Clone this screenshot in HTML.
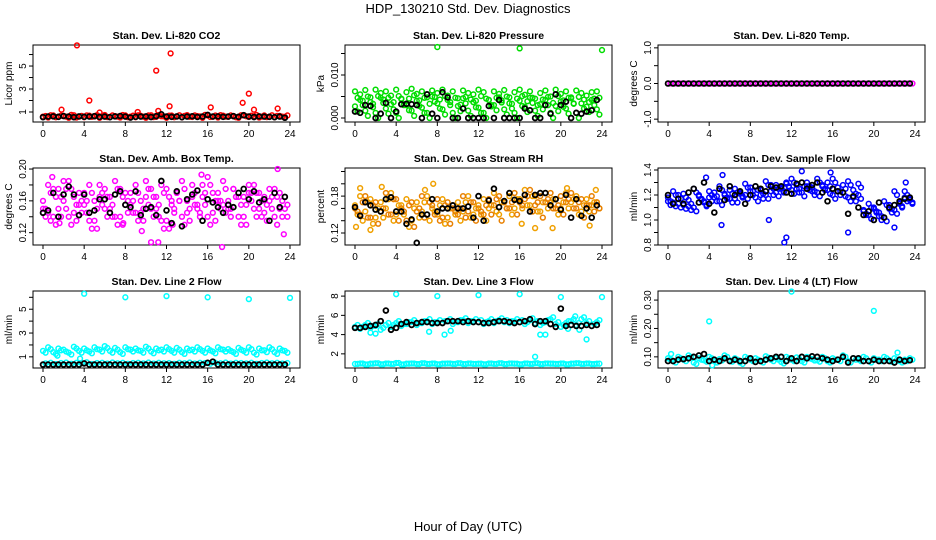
<!DOCTYPE html>
<html><head><meta charset="utf-8"><style>
html,body{margin:0;padding:0;background:#fff}
svg{display:block;font-family:"Liberation Sans",Arial,sans-serif}
</style></head><body>
<svg id="chart" width="936" height="540">
<text x="468" y="13" text-anchor="middle" font-size="13">HDP_130210  Std. Dev. Diagnostics</text>
<text x="468" y="531" text-anchor="middle" font-size="13">Hour of Day (UTC)</text>
</svg>
<script>
const xTicks=[0,4,8,12,16,20,24];
const co2Red=[0.6,0.52,0.7,0.58,0.66,0.5,0.72,0.6,0.55,0.68,0.62,0.5,0.74,0.57,0.64,0.52,0.7,0.6,0.55,0.67,0.5,0.72,0.58,0.63,0.5,0.69,0.6,0.54,0.73,0.57,0.64,0.5,0.7,0.6,0.52,0.68,0.58,0.65,0.5,0.72,0.57,0.62,0.52,0.7,0.6,0.55,0.66,0.58];
const co2Red2=[0.65,0.72,0.55,0.68,0.6,0.75,0.52,0.66,0.7,0.58,0.73,0.64,0.56,0.7,0.6,0.74,0.55,0.68,0.72,0.6,0.7,0.56,0.74,0.62,0.68,0.55,0.72,0.66,0.58,0.7,0.62,0.75,0.57,0.69,0.73,0.6,0.7,0.55,0.72,0.63,0.68,0.74,0.6,0.56,0.71,0.66,0.6,0.7];
const co2OutHours=[3.3,4.5,1.8,5.5,9.2,11,11.2,12.3,12.4,16.3,19.4,20,20.5,22.8];
const co2OutValues=[6.8,2.0,1.2,0.95,1.0,4.6,1.1,1.5,6.1,1.4,1.8,2.6,1.2,1.3];
const co2Black=[0.55,0.6,0.62,0.58,0.65,0.6,0.55,0.62,0.58,0.6,0.64,0.57,0.6,0.55,0.62,0.65,0.6,0.52,0.58,0.6,0.62,0.56,0.64,0.8,0.6,0.58,0.62,0.55,0.6,0.63,0.57,0.6,0.75,0.6,0.62,0.58,0.6,0.64,0.58,0.72,0.6,0.56,0.62,0.6,0.58,0.55,0.6,0.5];

const presA=[0.0062,0.0055,0.0065,0.0048,0.0066,0.0058,0.0062,0.0052,0.0066,0.0045,0.006,0.0068,0.0056,0.0062,0.0048,0.0064,0.0058,0.0066,0.0052,0.0062,0.0046,0.0064,0.0058,0.0055,0.0066,0.006,0.0042,0.0062,0.0056,0.0065,0.0048,0.006,0.0066,0.0054,0.0062,0.0045,0.0058,0.0064,0.005,0.0066,0.0056,0.0062,0.0048,0.0064,0.0058,0.0052,0.006,0.0062];
const presB=[0.0015,0.003,0.0005,0.0025,0.0,0.0035,0.001,0.002,0.0,0.0032,0.0018,0.0005,0.0028,0.0012,0.0,0.0038,0.0022,0.0008,0.003,0.0,0.0016,0.0034,0.0005,0.0025,0.0012,0.0,0.003,0.0018,0.0036,0.0008,0.0022,0.0,0.0028,0.0014,0.0035,0.0005,0.002,0.003,0.0,0.0016,0.0026,0.001,0.0034,0.0,0.0022,0.0014,0.003,0.0008];
const presOutHours=[8,16,24];
const presOutValues=[0.0165,0.0162,0.0158];
const presBlack=[0.0015,0.0012,0.003,0.0028,0.0,0.001,0.0035,0.0,0.0015,0.0032,0.0033,0.0032,0.003,0.0,0.0055,0.001,0.0,0.006,0.0048,0.0,0.0,0.0022,0.0,0.0,0.0,0.0,0.0028,0.0,0.0042,0.0,0.0,0.0,0.0,0.0022,0.0018,0.0,0.0,0.003,0.001,0.0055,0.003,0.0038,0.0,0.0012,0.001,0.0015,0.0018,0.0042];

const tempMag=[0,0,0,0,0,0,0,0,0,0,0,0,0,0,0,0,0,0,0,0,0,0,0,0,0,0,0,0,0,0,0,0,0,0,0,0,0,0,0,0,0,0,0,0,0,0,0,0];
const tempBlack=[0,0,0,0,0,0,0,0,0,0,0,0,0,0,0,0,0,0,0,0,0,0,0,0,0,0,0,0,0,0,0,0,0,0,0,0,0,0,0,0,0,0,0,0,0,0,0,0];

const ambA=[0.16,0.145,0.175,0.15,0.185,0.14,0.165,0.155,0.17,0.135,0.16,0.18,0.15,0.165,0.14,0.175,0.155,0.17,0.145,0.16,0.185,0.15,0.165,0.135,0.175,0.155,0.17,0.14,0.16,0.18,0.15,0.165,0.19,0.145,0.17,0.155,0.16,0.175,0.14,0.165,0.18,0.15,0.17,0.145,0.16,0.175,0.15,0.165];
const ambB=[0.14,0.17,0.13,0.165,0.15,0.175,0.135,0.16,0.145,0.17,0.125,0.155,0.165,0.14,0.175,0.13,0.16,0.145,0.17,0.135,0.155,0.165,0.14,0.17,0.125,0.15,0.16,0.175,0.135,0.155,0.145,0.17,0.13,0.16,0.15,0.175,0.14,0.165,0.155,0.13,0.16,0.17,0.14,0.155,0.165,0.13,0.16,0.14];
const ambOutHours=[0.9,1.6,7.8,9.6,10.5,11.2,12.6,17.4,22.8,23.4,15.4];
const ambOutValues=[0.19,0.132,0.132,0.122,0.108,0.108,0.13,0.102,0.2,0.118,0.193];
const ambBlack=[0.145,0.148,0.17,0.14,0.168,0.178,0.168,0.142,0.168,0.145,0.148,0.162,0.162,0.145,0.168,0.172,0.155,0.152,0.172,0.142,0.15,0.152,0.142,0.185,0.148,0.132,0.172,0.128,0.162,0.168,0.173,0.135,0.162,0.158,0.152,0.145,0.155,0.152,0.17,0.175,0.162,0.172,0.158,0.162,0.135,0.17,0.152,0.165];

const rhA=[0.165,0.18,0.155,0.175,0.145,0.17,0.16,0.185,0.15,0.165,0.175,0.14,0.17,0.155,0.18,0.16,0.15,0.175,0.145,0.165,0.17,0.155,0.18,0.15,0.165,0.175,0.16,0.185,0.15,0.17,0.18,0.16,0.175,0.19,0.165,0.18,0.155,0.185,0.17,0.175,0.16,0.185,0.17,0.18,0.155,0.175,0.165,0.17];
const rhB=[0.15,0.14,0.17,0.135,0.16,0.145,0.175,0.14,0.165,0.15,0.13,0.16,0.145,0.17,0.14,0.155,0.165,0.135,0.16,0.15,0.14,0.17,0.145,0.16,0.15,0.14,0.165,0.155,0.17,0.16,0.15,0.175,0.16,0.165,0.18,0.155,0.17,0.16,0.175,0.15,0.17,0.16,0.175,0.15,0.165,0.155,0.17,0.16];
const rhOutHours=[0.1,0.5,1.5,2.6,6.8,7.6,16.2,17.5,19.2,20.6,22.8,23.4];
const rhOutValues=[0.13,0.193,0.125,0.195,0.19,0.2,0.135,0.128,0.128,0.193,0.132,0.19];
const rhBlack=[0.162,0.148,0.17,0.165,0.158,0.155,0.175,0.178,0.155,0.155,0.135,0.142,0.104,0.15,0.15,0.175,0.155,0.16,0.16,0.165,0.16,0.16,0.163,0.145,0.18,0.14,0.173,0.192,0.162,0.172,0.185,0.174,0.172,0.182,0.155,0.182,0.185,0.185,0.165,0.175,0.158,0.182,0.145,0.175,0.148,0.16,0.145,0.165];

const flowA=[1.18,1.14,1.2,1.12,1.16,1.1,1.2,1.14,1.18,1.22,1.15,1.2,1.24,1.17,1.22,1.2,1.26,1.18,1.24,1.2,1.28,1.22,1.26,1.3,1.24,1.28,1.22,1.3,1.26,1.22,1.28,1.24,1.2,1.26,1.22,1.18,1.24,1.2,1.08,1.04,1.1,1.06,1.02,1.12,1.08,1.14,1.18,1.16];
const flowB=[1.12,1.2,1.1,1.18,1.08,1.22,1.16,1.12,1.2,1.15,1.24,1.18,1.14,1.22,1.18,1.26,1.2,1.24,1.17,1.28,1.2,1.25,1.22,1.26,1.3,1.22,1.27,1.24,1.2,1.3,1.24,1.27,1.3,1.2,1.25,1.28,1.15,1.26,1.04,1.1,1.06,1.0,1.12,1.06,1.2,1.1,1.2,1.14];
const flowOutHours=[11.3,11.5,5.2,9.8,3.7,22,17.5,13,5.3,15.8,23.1];
const flowOutValues=[0.82,0.86,0.96,1.0,1.34,0.94,0.9,1.39,1.36,1.38,1.3];
const flowBlack=[1.2,1.13,1.17,1.13,1.22,1.25,1.14,1.3,1.13,1.06,1.25,1.16,1.27,1.2,1.23,1.13,1.2,1.27,1.25,1.23,1.27,1.26,1.27,1.22,1.21,1.29,1.3,1.25,1.28,1.3,1.22,1.15,1.25,1.23,1.22,1.05,1.19,1.1,1.04,1.07,1.0,1.14,1.02,1.1,1.12,1.15,1.17,1.18];

const l2A=[1.5,1.8,1.4,1.7,1.6,1.35,1.85,1.5,1.7,1.45,1.8,1.6,1.9,1.5,1.75,1.4,1.8,1.6,1.7,1.5,1.85,1.45,1.7,1.6,1.8,1.5,1.75,1.4,1.7,1.6,1.8,1.5,1.7,1.45,1.8,1.6,1.65,1.4,1.75,1.5,1.8,1.35,1.7,1.55,1.8,1.4,1.7,1.5];
const l2Low=[0.45,0.5,0.4,0.48,0.52,0.42,0.5,0.46,0.55,0.4,0.48,0.5,0.44,0.52,0.46,0.5,0.42,0.48,0.5,0.45,0.52,0.44,0.5,0.46,0.48,0.42,0.5,0.46,0.52,0.44,0.5,0.48,0.42,0.5,0.46,0.52,0.44,0.5,0.48,0.45,0.5,0.42,0.48,0.52,0.46,0.5,0.44,0.48];
const l2OutHours=[4,8,12,16,20,24,1.4,3.6];
const l2OutValues=[6.3,6.0,6.1,6.0,5.85,5.95,1.1,0.85];
const l2Black=[0.35,0.35,0.35,0.35,0.35,0.35,0.35,0.35,0.45,0.35,0.35,0.35,0.35,0.35,0.35,0.35,0.35,0.35,0.35,0.35,0.35,0.35,0.35,0.35,0.35,0.35,0.35,0.35,0.35,0.35,0.35,0.35,0.5,0.6,0.35,0.35,0.35,0.35,0.35,0.35,0.35,0.35,0.35,0.35,0.35,0.35,0.35,0.35];

const l3A=[4.8,4.6,5.0,4.7,4.9,4.5,5.0,4.8,5.2,4.9,5.1,5.3,5.0,5.2,5.4,5.1,5.3,5.2,5.4,5.1,5.3,5.5,5.2,5.4,5.3,5.1,5.4,5.2,5.5,5.3,5.2,5.4,5.3,5.1,5.5,5.2,5.0,5.3,5.6,5.1,4.8,5.2,5.4,5.0,5.6,5.2,4.9,5.3];
const l3Low=[0.95,1.0,0.9,0.98,1.02,0.92,1.0,0.96,1.05,0.9,0.98,1.0,0.94,1.02,0.96,1.0,0.92,0.98,1.0,0.95,1.02,0.94,1.0,0.96,0.98,0.92,1.0,0.96,1.02,0.94,1.0,0.98,0.92,1.0,0.96,1.02,0.94,1.0,0.98,0.95,1.0,0.92,0.98,1.02,0.96,1.0,0.94,0.98];
const l3OutHours=[4,8,12,16,20,24,1.5,2.0,7.2,8.7,9.3,17.5,18,18.5,20.7,21.4,21.8,22.5];
const l3OutValues=[8.2,8.0,8.1,8.2,7.9,7.9,4.2,4.1,4.3,4.0,4.4,1.7,4.0,4.0,4.6,5.9,4.5,3.5];
const l3Black=[4.7,4.7,4.8,4.9,5.0,5.4,6.5,4.5,4.7,5.1,5.3,5.0,5.2,5.3,5.3,5.2,5.2,5.2,5.4,5.4,5.4,5.3,5.4,5.3,5.3,5.2,5.2,5.3,5.4,5.4,5.3,5.2,5.3,5.4,5.6,5.1,5.4,5.4,5.1,4.8,6.7,4.9,5.0,4.9,4.9,5.0,4.9,5.0];

const l4A=[0.095,0.085,0.1,0.09,0.105,0.08,0.095,0.088,0.1,0.085,0.092,0.105,0.088,0.095,0.08,0.1,0.09,0.095,0.085,0.102,0.09,0.095,0.082,0.1,0.09,0.098,0.085,0.1,0.092,0.088,0.1,0.085,0.095,0.09,0.105,0.085,0.095,0.09,0.1,0.085,0.095,0.09,0.1,0.088,0.095,0.085,0.09,0.095];
const l4OutHours=[4,12,20,22.3,0.3,4.3];
const l4OutValues=[0.225,0.33,0.262,0.115,0.11,0.07];
const l4Black=[0.085,0.085,0.09,0.092,0.095,0.1,0.105,0.11,0.085,0.09,0.085,0.095,0.085,0.09,0.085,0.085,0.095,0.082,0.085,0.09,0.095,0.1,0.1,0.085,0.095,0.085,0.1,0.095,0.102,0.1,0.095,0.09,0.085,0.09,0.1,0.08,0.095,0.095,0.085,0.085,0.09,0.085,0.085,0.085,0.08,0.09,0.085,0.088];

const panels=[
 {name:'co2',title:'Stan. Dev. Li-820 CO2',ylab:'Licor ppm',col:0,row:0,ymin:0.13,ymax:6.83,yt:[1,2,3,4,5,6],yl:[1,3,5],fmt:0,
  series:[{v:co2Red,c:'#ff0000',off:0},{v:co2Red2,c:'#ff0000',off:0.25},{h:co2OutHours,v:co2OutValues,c:'#ff0000'},{v:co2Black,c:'#000',off:0}]},
 {name:'pressure',title:'Stan. Dev. Li-820 Pressure',ylab:'kPa',col:1,row:0,ymin:-0.00093,ymax:0.01698,yt:[0,0.005,0.01,0.015],yl:[0,0.01],fmt:3,
  series:[{v:presA,c:'#00dd00',off:0},{v:presB,c:'#00dd00',off:0.25},{v:presA,c:'#00dd00',off:0.25,dy:-0.0015},{v:presB,c:'#00dd00',off:0,dy:0.0012},{h:presOutHours,v:presOutValues,c:'#00dd00'},{v:presBlack,c:'#000',off:0}]},
 {name:'licor-temp',title:'Stan. Dev. Li-820 Temp.',ylab:'degrees C',col:2,row:0,ymin:-1.08,ymax:1.08,yt:[-1,-0.5,0,0.5,1],yl:[-1,0,1],fmt:1,
  series:[{v:tempMag,c:'#ff00ff',off:0.25},{v:tempBlack,c:'#000',off:0}]},
 {name:'amb-temp',title:'Stan. Dev. Amb. Box Temp.',ylab:'degrees C',col:0,row:1,ymin:0.1045,ymax:0.2013,yt:[0.12,0.14,0.16,0.18,0.2],yl:[0.12,0.16,0.2],fmt:2,
  series:[{v:ambA,c:'#ff00ff',off:0},{v:ambB,c:'#ff00ff',off:0.25},{v:ambB,c:'#ff00ff',off:0,dy:0.01},{v:ambA,c:'#ff00ff',off:0.25,dy:-0.01},{h:ambOutHours,v:ambOutValues,c:'#ff00ff'},{v:ambBlack,c:'#000',off:0}]},
 {name:'gas-rh',title:'Stan. Dev. Gas Stream RH',ylab:'percent',col:1,row:1,ymin:0.1005,ymax:0.2257,yt:[0.12,0.14,0.16,0.18,0.2,0.22],yl:[0.12,0.18],fmt:2,
  series:[{v:rhA,c:'#f0a000',off:0},{v:rhB,c:'#f0a000',off:0.25},{v:rhB,c:'#e88000',off:0,dy:0.01},{v:rhA,c:'#e88000',off:0.25,dy:-0.01},{h:rhOutHours,v:rhOutValues,c:'#f0a000'},{v:rhBlack,c:'#000',off:0}]},
 {name:'sample-flow',title:'Stan. Dev. Sample Flow',ylab:'ml/min',col:2,row:1,ymin:0.8,ymax:1.416,yt:[0.8,0.9,1.0,1.1,1.2,1.3,1.4],yl:[0.8,1.0,1.2,1.4],fmt:1,
  series:[{v:flowA,c:'#0000ff',off:0},{v:flowB,c:'#0000ff',off:0.25},{v:flowB,c:'#0000ff',off:0,dy:0.03},{v:flowA,c:'#0000ff',off:0.25,dy:-0.03},{h:flowOutHours,v:flowOutValues,c:'#0000ff'},{v:flowBlack,c:'#000',off:0}]},
 {name:'line2',title:'Stan. Dev. Line 2 Flow',ylab:'ml/min',col:0,row:2,ymin:0.064,ymax:6.53,yt:[1,2,3,4,5,6],yl:[1,3,5],fmt:0,
  series:[{v:l2A,c:'#00ffff',off:0},{v:l2A,c:'#00ffff',off:0.25,dy:-0.15},{v:l2Low,c:'#00ffff',off:0.25},{h:l2OutHours,v:l2OutValues,c:'#00ffff'},{v:l2Black,c:'#000',off:0}]},
 {name:'line3',title:'Stan. Dev. Line 3 Flow',ylab:'ml/min',col:1,row:2,ymin:0.53,ymax:8.53,yt:[2,4,6,8],yl:[2,4,6,8],fmt:0,
  series:[{v:l3A,c:'#00ffff',off:0},{v:l3A,c:'#00ffff',off:0.25,dy:0.2},{v:l3Low,c:'#00ffff',off:0.25},{v:l3Low,c:'#00ffff',off:0},{h:l3OutHours,v:l3OutValues,c:'#00ffff'},{v:l3Black,c:'#000',off:0}]},
 {name:'line4',title:'Stan. Dev. Line 4 (LT) Flow',ylab:'ml/min',col:2,row:2,ymin:0.0607,ymax:0.332,yt:[0.1,0.15,0.2,0.25,0.3],yl:[0.1,0.2,0.3],fmt:2,
  series:[{v:l4A,c:'#00ffff',off:0},{v:l4A,c:'#00ffff',off:0.25,dy:-0.005},{h:l4OutHours,v:l4OutValues,c:'#00ffff'},{v:l4Black,c:'#000',off:0}]}
];
const NS='http://www.w3.org/2000/svg';
const svg=document.getElementById('chart');
const colX=[33,345,658], rowY=[45,168,291], W=267, H=77;
function mk(t,a,p){const e=document.createElementNS(NS,t);for(const k in a)e.setAttribute(k,a[k]);(p||svg).appendChild(e);return e;}
panels.forEach(p=>{
  const L=colX[p.col],T=rowY[p.row];
  const g=mk('g',{});
  
  
  const xs=h=>L+10+h*(W-20)/24;
  const ys=v=>T+H-(v-p.ymin)/(p.ymax-p.ymin)*H;
  const box=mk('rect',{x:L,y:T,width:W,height:H,fill:'none',stroke:'#000','stroke-width':1},g);
  
  
  const tt=mk('text',{x:L+W/2,y:T-6,'text-anchor':'middle','font-size':10.5,'font-weight':'bold'},g);
  tt.textContent=p.title;
  
  
  xTicks.forEach(h=>{
    mk('line',{x1:xs(h),x2:xs(h),y1:T+H,y2:T+H+4,stroke:'#000'},g);
    const t=mk('text',{x:xs(h),y:T+H+15,'text-anchor':'middle','font-size':10},g);
    t.textContent=h;
    
    
  });
  p.yt.forEach(v=>mk('line',{x1:L-4,x2:L,y1:ys(v),y2:ys(v),stroke:'#000'},g));
  p.yl.forEach(v=>{
    const t=mk('text',{x:L-7,y:ys(v),'text-anchor':'middle','font-size':10,transform:`rotate(-90 ${L-7} ${ys(v)})`},g);
    t.textContent=v.toFixed(p.fmt);
    
    
  });
  const yl=mk('text',{x:L-21,y:T+H/2,'text-anchor':'middle','font-size':10,transform:`rotate(-90 ${L-21} ${T+H/2})`},g);
  yl.textContent=p.ylab;
  
  
  p.series.forEach(s=>{
    const n=s.v.length;
    s.v.forEach((v,i)=>{
      const h=s.h?s.h[i]:(s.off||0)+i*23.5/(n-1);
      const c=mk('circle',{cx:xs(h),cy:ys(v+(s.dy||0)),r:2.4,fill:'none',stroke:s.c,'stroke-width':s.c==='#000'?1.8:1.5},g);
      
      
    });
  });
});
</script>
</body></html>
